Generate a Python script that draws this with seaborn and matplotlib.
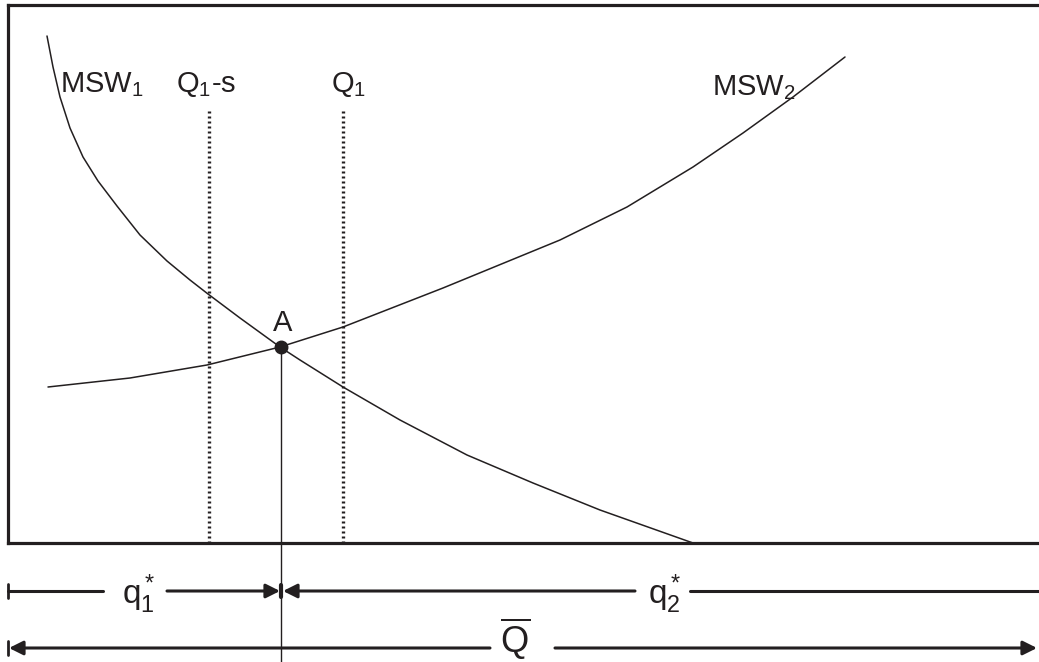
import numpy as np
import pandas as pd
import seaborn as sns
import matplotlib.pyplot as plt

msw1_q = [39, 45, 52, 62, 75, 90, 109, 132, 159, 182, 200, 232, 272, 292, 335, 392, 459, 525, 592, 685]
msw1_v = [507, 476, 446, 415, 386, 362, 337, 308, 282, 263, 249, 225, 196, 183, 156, 123, 88, 60, 33, 0]
msw2_q = [40, 122, 199, 272, 335, 435, 552, 619, 685, 735, 785, 837]
msw2_v = [156, 165, 178, 196, 216, 255, 303, 336, 376, 410, 446, 486]

q_total = 1031          # Q bar, whole width
q1 = 335                # Q1
q1_minus_s = 201        # Q1 - s
quota_top = 433         # where the dotted quota lines start
a_q, a_v = 273, 196     # point A

sns.set_theme(style='white')
plt.rcParams['font.family'] = ['Liberation Sans', 'DejaVu Sans']
plt.rcParams['mathtext.fontset'] = 'custom'
plt.rcParams['mathtext.rm'] = 'Liberation Sans'
plt.rcParams['mathtext.it'] = 'Liberation Sans'

ink = '#231f20'

fig = plt.figure(figsize=(10.39, 6.62), dpi=100)
ax = fig.add_axes([8/1039, 119/662, 1031/1039, 538/662])
ax.set_xlim(0, q_total)
ax.set_ylim(0, 538)
ax.set_xticks([])
ax.set_yticks([])
for s in ['left', 'top', 'bottom']:
    ax.spines[s].set_linewidth(2.3)
    ax.spines[s].set_color(ink)
ax.spines['right'].set_visible(False)

df1 = pd.DataFrame({'q': msw1_q, 'v': msw1_v})
df2 = pd.DataFrame({'q': msw2_q, 'v': msw2_v})
sns.lineplot(data=df1, x='q', y='v', color=ink, lw=1.1, estimator=None, ax=ax)
sns.lineplot(data=df2, x='q', y='v', color=ink, lw=1.1, estimator=None, ax=ax)
ax.set_xlabel('')
ax.set_ylabel('')

# dotted quota lines
for xq in [q1_minus_s, q1]:
    ax.plot([xq, xq], [0, quota_top], color=ink, lw=2.4, linestyle=(0, (0.6, 0.9)))

# point A and line down through the bottom rows
ax.plot([a_q, a_q], [a_v, -125], color=ink, lw=1, clip_on=False)
ax.plot([a_q], [a_v], 'o', color=ink, ms=9, zorder=5)
ax.text(a_q + 2, a_v + 24, 'A', fontsize=21, ha='center', va='center', color=ink)

# curve labels
ax.text(52, 451, r'MSW$_1$', fontsize=21, ha='left', va='baseline', color=ink)
ax.text(q1_minus_s - 3, 451, r'Q$_1$-s', fontsize=21, ha='center', va='baseline', color=ink)
ax.text(q1 + 6, 451, r'Q$_1$', fontsize=21, ha='center', va='baseline', color=ink)
ax.text(704, 448, r'MSW$_2$', fontsize=21, ha='left', va='baseline', color=ink)

# bottom rows: q1*, q2* and Q bar
y1 = -48
y2 = -105
lw_b = 2.2
head = dict(arrowstyle='-|>,head_length=0.7,head_width=0.35', lw=lw_b, color=ink,
            shrinkA=0, shrinkB=0, mutation_scale=12)

ax.plot([0, 0], [y1 - 7, y1 + 7], color=ink, lw=2, clip_on=False)
ax.plot([0, 95], [y1, y1], color=ink, lw=lw_b, clip_on=False)
ax.annotate('', xy=(a_q - 1, y1), xytext=(159, y1), arrowprops=head, annotation_clip=False)
ax.plot([a_q, a_q], [y1 - 6, y1 + 6], color=ink, lw=3, clip_on=False)
ax.annotate('', xy=(a_q + 2, y1), xytext=(627, y1), arrowprops=head, annotation_clip=False)
ax.plot([682, q_total], [y1, y1], color=ink, lw=lw_b, clip_on=False)
ax.text(114, y1 - 13, r'q$_1^*$', fontsize=24, ha='left', va='baseline', color=ink)
ax.text(640, y1 - 13, r'q$_2^*$', fontsize=24, ha='left', va='baseline', color=ink)

ax.plot([0, 0], [y2 - 7, y2 + 7], color=ink, lw=2, clip_on=False)
ax.annotate('', xy=(1, y2), xytext=(482, y2), arrowprops=head, annotation_clip=False)
ax.annotate('', xy=(q_total - 2, y2), xytext=(547, y2), arrowprops=head, annotation_clip=False)
ax.text(492, y2 - 5, r'$\overline{\mathrm{Q}}$', fontsize=26, ha='left', va='baseline', color=ink)

fig.savefig('out.png', dpi=100)
